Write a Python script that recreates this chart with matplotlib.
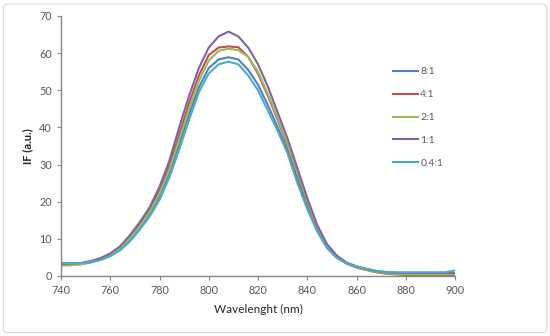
import matplotlib
matplotlib.use("Agg")
import matplotlib.pyplot as plt
from matplotlib.patches import FancyBboxPatch

plt.rcParams['font.family'] = ['Lato', 'DejaVu Sans']

wavelength = list(range(740, 901, 4))

s_8_1 = [3.4, 3.4, 3.4, 3.8, 4.4, 5.5, 7.2, 9.8, 13.0, 16.8, 21.5, 27.8, 35.5, 43.5, 50.8, 56.0,
         58.3, 58.9, 58.3, 55.5, 51.5, 46.0, 40.0, 33.8, 26.0, 18.8, 12.5, 7.8, 5.0, 3.4, 2.5,
         1.8, 1.2, 0.9, 0.8, 0.8, 0.8, 0.8, 0.8, 0.8, 0.8]
s_4_1 = [3.0, 3.1, 3.2, 3.7, 4.5, 5.8, 7.7, 10.5, 13.8, 17.8, 23.0, 29.8, 38.0, 46.5, 54.0, 59.5,
         61.5, 61.8, 61.6, 59.0, 54.5, 48.5, 42.0, 35.0, 27.3, 19.8, 13.0, 8.1, 5.1, 3.3, 2.3,
         1.6, 1.0, 0.6, 0.4, 0.3, 0.3, 0.3, 0.3, 0.3, 0.3]
s_2_1 = [2.8, 2.9, 3.1, 3.6, 4.4, 5.6, 7.4, 10.2, 13.4, 17.3, 22.2, 28.7, 36.7, 45.0, 52.5, 58.0,
         60.6, 61.2, 60.8, 59.0, 55.0, 49.0, 42.5, 35.5, 27.8, 20.2, 13.3, 8.3, 5.2, 3.4, 2.4,
         1.7, 1.1, 0.7, 0.5, 0.5, 0.5, 0.5, 0.5, 0.5, 0.5]
s_1_1 = [3.3, 3.4, 3.5, 4.0, 4.8, 6.1, 8.0, 11.0, 14.5, 18.5, 24.0, 31.0, 40.0, 48.5, 56.0, 61.5,
         64.5, 65.8, 64.5, 61.5, 57.0, 51.0, 44.0, 37.0, 29.0, 21.0, 13.8, 8.6, 5.5, 3.6, 2.6,
         1.9, 1.3, 1.0, 0.8, 0.8, 0.8, 0.8, 0.8, 0.8, 0.8]
s_04_1 = [3.5, 3.5, 3.4, 3.7, 4.3, 5.3, 6.9, 9.3, 12.5, 16.0, 20.5, 26.5, 34.0, 42.0, 49.5, 54.5,
          57.0, 57.7, 57.0, 54.0, 50.0, 44.5, 39.0, 33.0, 25.0, 18.0, 12.0, 7.5, 4.8, 3.4, 2.5,
          1.9, 1.4, 1.1, 1.0, 1.0, 1.0, 1.0, 1.0, 1.0, 1.5]

labels = ["8:1", "4:1", "2:1", "1:1", "0.4:1"]
series = [s_8_1, s_4_1, s_2_1, s_1_1, s_04_1]
colors = ["#4F81BD", "#C0504D", "#9BBB59", "#8064A2", "#4BACC6"]

xticks = [740, 760, 780, 800, 820, 840, 860, 880, 900]
yticks = [0, 10, 20, 30, 40, 50, 60, 70]

fig = plt.figure(figsize=(5.5, 3.36), dpi=100)
fig.patches.append(FancyBboxPatch((0.006, 0.01), 0.988, 0.978, boxstyle="round,pad=0,rounding_size=0.01",
                                  transform=fig.transFigure, facecolor="none", edgecolor="#D9D9D9", lw=0.8))
ax = fig.add_axes([0.1109, 0.1786, 0.7164, 0.7738])

for y, lab, c in zip(series, labels, colors):
    ax.plot(wavelength, y, color=c, lw=1.5, label=lab, solid_joinstyle="round")

ax.set_xlim(740, 900)
ax.set_ylim(0, 70)
ax.set_xticks(xticks)
ax.set_yticks(yticks)
for sp in ["top", "right"]:
    ax.spines[sp].set_visible(False)
for sp in ["left", "bottom"]:
    ax.spines[sp].set_color("#868686")
    ax.spines[sp].set_linewidth(1.0)
ax.tick_params(axis="both", colors="#868686", labelcolor="#595959", labelsize=7.8, length=3, width=0.8, direction="out")
ax.set_xlabel("Wavelenght (nm)", fontsize=8.5, color="#262626", labelpad=6)
ax.set_ylabel("IF (a.u.)", fontsize=8, fontweight="bold", color="#262626", labelpad=4)

leg = ax.legend(loc="upper left", bbox_to_anchor=(388 / 550, 1 - 62 / 336), bbox_transform=fig.transFigure,
                frameon=False, fontsize=7.5, handlelength=2.4, handletextpad=0.2, labelspacing=1.3,
                borderpad=0)
for t in leg.get_texts():
    t.set_color("#595959")

fig.savefig("out.png", dpi=100)
